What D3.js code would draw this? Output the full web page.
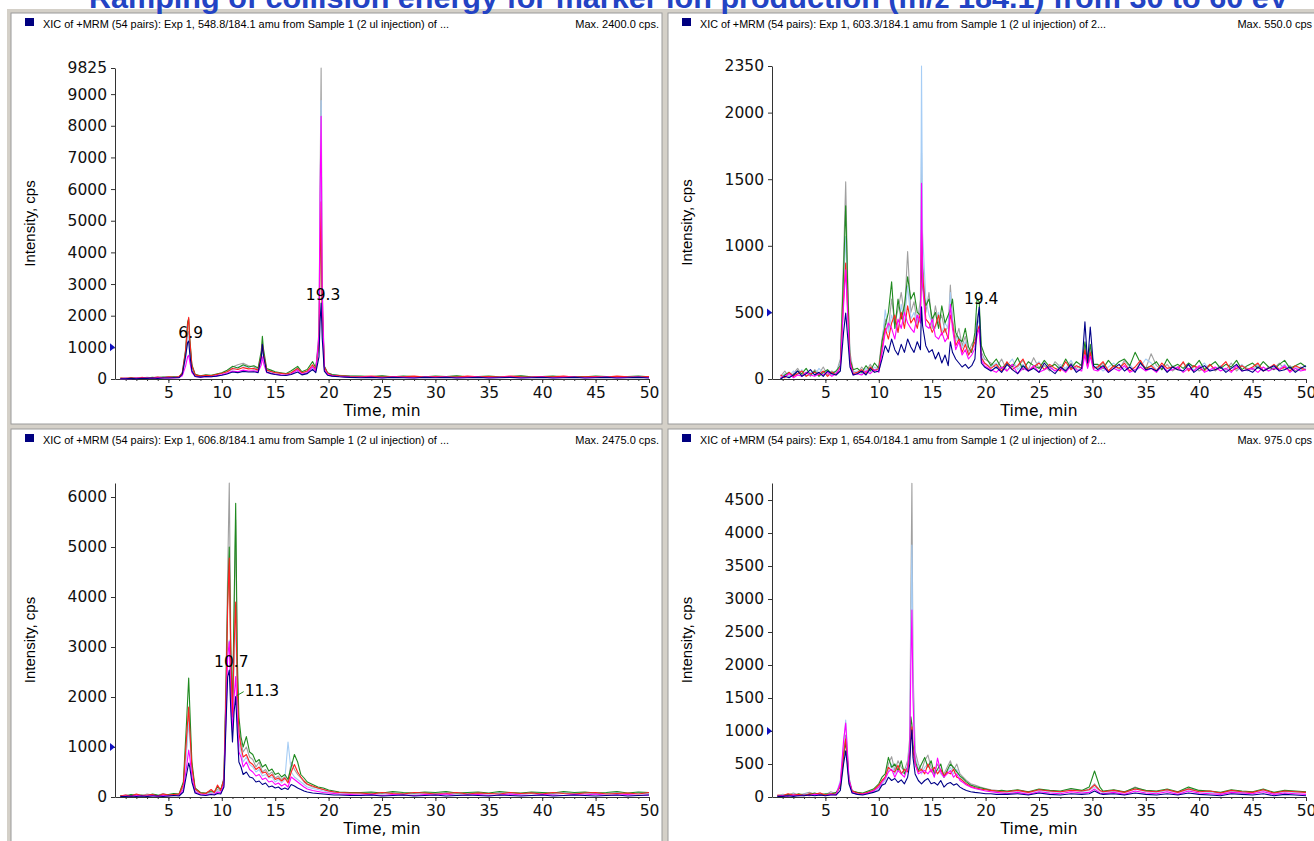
<!DOCTYPE html>
<html>
<head>
<meta charset="utf-8">
<script src="https://cdn.jsdelivr.net/npm/d3@7"></script>
<style>
  body { margin: 0; background: #fff; }
  svg { display: block; }
</style>
</head>
<body>
<svg id="chart" width="1314" height="841"></svg>
<script>
// ---- data ----
const title = 'Ramping of collision energy for marker ion production (m/z 184.1) from 30 to 60 eV';
const seriesColors = ['#a0a0a0', '#a6cdf5', '#1f8a1f', '#ff2020', '#ff00ff', '#000088'];
const xTicks = [5, 10, 15, 20, 25, 30, 35, 40, 45, 50];

// top left: 548.8/184.1
const timeTL = [0.5,1,1.5,2,2.5,3,3.5,4,4.5,5,5.5,6, 6.3,6.6,6.8,6.9,7.0,7.2,7.5, 8,8.5,9,9.5,10,10.5,11,11.5,12,12.5,13,
  13.4,13.7,13.8,13.9,14.2,14.6,15,15.5,16,16.5, 17.1,17.5,18,18.5,18.8,19.1,19.2,19.3,19.4,19.6,19.9, 20.3,21,21.5,22,
  23,24,25,26,27,28,29,30,31,32,33,34,35,36,37,38,39,40,41,42,43,44,45,46,47,48,49,50];
const grayTL = [20,30,25,40,30,50,40,60,50,70,60,80, 150,700,1400,1500,1100,400,120, 90,110,100,140,180,250,380,450,500,420,380,
  300,700,1100,800,300,250,200,180,160,200, 350,200,220,400,300,1500,6000,9825,3000,400,200, 150,120,100,90,
  80,70,90,60,80,70,60,80,70,90,60,70,80,60,70,90,60,70,80,60,70,60,80,70,60,70,80,60];
const blueTL = [10,20,15,30,20,40,30,45,40,55,50,60, 120,600,1300,1350,1000,350,100, 70,90,80,120,160,220,300,380,420,360,300,
  250,600,1000,700,260,220,180,160,150,180, 300,180,200,350,260,1300,5500,8800,2600,350,180, 130,100,90,80,
  60,70,50,80,60,50,70,60,80,50,60,70,50,60,80,50,60,70,50,60,70,50,60,70,50,60,70,50];
const greenTL = [20,10,30,20,40,30,50,40,60,50,70,60, 200,900,1800,1900,1300,450,150, 100,130,120,160,200,280,400,350,450,380,420,
  350,900,1350,950,330,280,230,200,170,260, 400,230,300,550,350,1200,4000,4500,2200,400,200, 140,110,100,90,
  90,80,100,70,90,80,70,90,80,100,70,80,90,70,80,100,70,80,90,70,80,70,90,80,70,80,90,70];
const redTL = [30,20,40,20,50,30,40,60,40,70,50,80, 180,850,1700,1950,1250,420,130, 90,120,100,140,180,230,330,300,360,320,330,
  280,750,1100,800,280,240,200,180,160,200, 330,200,250,450,300,1100,3800,5600,2400,380,180, 120,100,90,80,
  70,90,60,80,70,90,60,80,70,60,90,70,80,60,90,70,60,80,70,90,60,70,80,60,90,70,60,80];
const pinkTL = [10,20,10,30,20,30,20,40,30,40,30,50, 100,400,700,750,550,200,80, 60,80,70,100,130,180,250,230,280,250,260,
  220,450,700,500,200,180,150,130,120,160, 280,150,200,380,250,1400,5800,8300,2800,300,150, 100,80,70,60,
  50,60,40,60,50,40,60,50,60,40,50,60,40,50,60,40,50,60,40,50,60,40,50,60,40,50,60,40];
const navyTL = [10,10,20,10,20,20,30,20,30,30,40,40, 150,700,1150,1200,800,250,80, 60,80,70,90,120,160,220,200,240,220,230,
  200,700,1100,750,220,170,140,120,110,140, 220,130,170,300,200,700,1800,2400,1300,250,120, 90,70,60,50,
  40,50,30,50,40,30,50,40,50,30,40,50,30,40,50,30,40,50,30,40,50,30,40,50,30,40,50,30];
const yTicksTL = [0, 1000, 2000, 3000, 4000, 5000, 6000, 7000, 8000, 9000, 9825];
const labelsTL = [[6.9, 1200, '6.9'], [19.3, 2400, '19.3']];

// top right: 603.3/184.1
const timeTR = [0.8,1.2,1.6,2,2.4,2.8,3.2,3.6,4,4.4,4.8,5.2,5.6,6, 6.4,6.7,6.9,7.1,7.3,7.6, 8,8.4,8.8,9.2,9.6,10,
  10.3,10.6,10.9,11.2,11.5,11.8,12.1,12.4,12.7,13,13.3,13.6,13.9, 14.0,14.1,14.4,14.7,15,15.3,15.6,15.9,16.2,16.5,
  16.7,16.9,17.2,17.5,17.8,18.1,18.4,18.7,19.0,19.2,19.4,19.6,19.9,
  20.5,21,21.5,22,22.5,23,23.5,24,24.5,25,25.5,26,26.5,27,27.5,28,28.5,29, 29.3,29.55,29.8,30.1,
  30.5,31,31.5,32,32.5,33,33.5,34,34.5,35,35.5,36,36.5,37,37.5,38,38.5,39,39.5,40,
  40.5,41,41.5,42,42.5,43,43.5,44,44.5,45,45.5,46,46.5,47,47.5,48,48.5,49,49.5,50];
const grayTR = [20,60,10,40,80,30,50,20,70,40,90,30,60,40, 150,900,1480,700,200,60, 40,90,50,110,60,100,
  300,450,380,600,420,520,650,480,956,500,580,420,600, 1697,900,500,650,380,550,420,480,350,400,
  706,450,300,380,250,320,200,260,300,450,520,200,150,
  120,80,150,60,110,90,140,70,160,80,100,60,130,90,70,120,80,110, 250,100,230,90,
  80,120,60,100,70,140,90,60,130,80,190,100,70,110,60,90,120,70,100,60,
  80,110,60,90,70,120,60,100,80,70,110,60,90,80,120,70,100,60,90,70];
const blueTR = [10,40,20,60,30,70,20,50,30,80,40,60,30,50, 120,700,1070,600,180,50, 60,40,80,50,90,70,
  250,520,350,480,400,350,560,420,700,450,500,400,550, 2350,1100,600,480,420,380,500,350,420,380,
  650,400,280,320,230,280,180,220,250,400,450,180,120,
  90,120,60,100,150,70,110,60,90,130,70,100,60,110,80,140,60,90, 200,90,180,80,
  100,60,90,120,70,80,110,60,90,150,120,70,90,60,100,80,60,110,70,90,
  120,60,80,100,60,90,70,110,60,80,100,70,60,90,80,110,60,90,70,80];
const greenTR = [0,30,50,20,60,40,80,30,60,20,50,70,40,60, 100,800,1300,650,150,70, 80,50,100,60,120,80,
  280,400,500,730,380,600,450,550,768,600,650,500,480, 900,700,550,600,450,500,380,550,420,480,
  520,600,350,300,280,380,240,200,350,600,580,250,180,
  100,150,80,120,90,160,70,130,100,80,140,90,110,70,150,80,130,100, 280,120,260,110,
  110,80,140,90,130,150,100,200,120,80,100,130,70,150,90,110,80,120,90,140,
  70,100,130,80,110,90,140,70,100,120,80,130,90,70,110,140,80,100,120,90];
const redTR = [30,10,50,20,40,60,20,40,50,30,60,20,50,30, 90,600,870,500,140,40, 50,70,40,90,60,80,
  220,380,300,420,480,350,500,380,550,420,460,380,500, 1118,800,450,420,350,400,480,330,380,300,
  480,420,250,300,200,260,180,220,280,350,400,160,120,
  80,110,60,130,70,100,150,60,90,120,70,110,80,60,130,70,100,80, 220,90,200,80,
  90,130,60,100,80,120,60,90,140,70,100,60,120,80,90,70,130,60,100,80,
  60,110,70,90,130,60,80,100,70,90,120,60,80,110,70,90,60,100,80,70];
const pinkTR = [10,20,40,10,30,20,50,30,20,40,30,50,20,40, 80,550,820,450,120,30, 40,30,60,40,70,50,
  200,350,420,380,300,450,380,500,420,380,350,480,420, 1470,700,400,380,450,320,300,350,280,320,
  560,380,220,280,180,220,150,180,230,320,380,140,100,
  70,50,90,60,110,40,80,60,100,50,70,90,60,80,50,100,70,60, 180,80,170,70,
  60,90,50,80,60,100,50,70,90,60,80,50,100,60,70,90,50,80,60,100,
  50,70,90,60,80,50,100,60,70,80,50,90,60,80,70,100,50,80,60,70];
const navyTR = [0,20,10,30,60,20,40,70,30,50,20,60,40,30, 60,350,495,300,90,30, 40,60,30,80,50,60,
  150,250,200,300,220,180,260,200,300,240,200,280,220, 543,400,250,200,220,150,200,120,180,100,
  280,200,150,120,90,110,80,100,150,400,540,120,90,
  60,90,50,110,70,40,100,60,80,50,120,70,40,90,60,110,50,80, 430,120,390,100,
  70,100,50,80,110,60,90,50,120,70,80,60,100,50,90,70,60,110,50,80,
  100,60,70,90,50,80,110,60,70,50,90,60,80,100,60,70,90,50,80,100];
const yTicksTR = [0, 500, 1000, 1500, 2000, 2350];
const labelsTR = [[19.4, 540, '19.4']];

// bottom left: 606.8/184.1
const timeBL = [0.5,1,1.5,2,2.5,3,3.5,4,4.5,5,5.5,6, 6.4,6.7,6.9,7.0,7.2,7.5,8, 8.5,9,9.3,9.6,9.9,10.2,
  10.4,10.55,10.7,10.85,11.0,11.15,11.3,11.45,11.6, 11.8,12.0,12.3,12.6,12.9,13.2,13.5,13.8,14.1,14.4,14.7,15,15.3,15.6,
  15.9,16.2,16.5,16.8,17.1,17.4,17.7,18,18.5,19, 19.5,20,20.5,21,22,
  23,24,25,26,27,28,29,30,31,32,33,34,35,36,37,38,39,40,41,42,43,44,45,46,47,48,49,50];
const grayBL = [20,40,30,50,20,60,40,30,70,40,60,50, 200,1000,1700,1400,600,150,80, 60,100,80,150,120,400,
  2500,4500,6280,3000,1800,3500,5540,2500,1400, 1100,900,1000,800,750,600,700,500,550,450,500,380,420,350,
  400,300,700,550,450,380,300,250,200,180, 150,120,100,90,80,
  70,80,60,90,70,60,80,70,90,60,70,80,60,90,70,60,80,70,60,90,70,80,60,70,90,60,80,70];
const blueBL = [10,30,20,40,10,50,30,20,50,30,40,40, 150,900,1500,1200,500,120,60, 50,80,70,120,100,300,
  1800,3000,3140,2200,1500,2600,3600,2000,1100, 900,700,800,650,600,500,550,420,450,380,400,300,350,280,
  350,1100,500,400,350,300,250,200,170,150, 120,100,90,80,70,
  60,50,70,60,50,70,60,80,50,60,70,50,60,80,60,50,70,60,50,80,60,70,50,60,80,50,70,60];
const greenBL = [30,20,50,30,40,20,60,40,30,50,70,60, 300,1500,2380,1800,700,180,90, 80,120,100,200,150,350,
  2200,4000,5000,2800,1700,3800,5873,2800,1600, 1200,1000,1207,900,850,700,750,600,650,520,560,450,480,400,
  450,350,600,850,700,450,380,300,250,200, 180,140,120,100,90,
  90,100,80,110,90,80,100,90,110,80,90,100,80,110,90,80,100,90,80,110,90,100,80,90,110,80,100,90];
const redBL = [20,40,20,60,30,40,50,20,60,40,50,60, 250,1200,1800,1340,600,160,80, 70,150,90,240,130,350,
  2100,3800,4780,2600,1600,3000,3900,2200,1300, 1000,800,850,700,650,550,600,480,500,400,450,350,380,320,
  380,280,500,650,500,400,320,260,220,180, 150,120,100,90,80,
  80,60,90,70,60,90,80,60,70,90,60,80,70,60,90,70,80,60,90,70,60,80,90,60,70,80,60,90];
const pinkBL = [10,20,10,30,20,20,30,10,30,20,30,30, 150,600,940,800,400,100,50, 40,60,50,100,80,250,
  1700,2800,3107,2000,1300,2000,2407,1600,900, 800,600,700,550,500,420,450,350,380,300,320,250,280,220,
  260,200,400,350,300,250,200,160,130,110, 90,80,70,60,50,
  40,50,30,50,40,30,50,40,60,30,40,50,30,40,60,40,30,50,40,30,50,40,60,30,40,50,30,40];
const navyBL = [10,10,20,10,20,10,20,20,10,20,30,20, 100,450,680,600,300,80,40, 30,50,40,70,60,200,
  1500,2400,2540,1700,1100,1700,2007,1300,700, 600,450,500,400,380,300,320,250,280,200,220,180,200,150,
  180,150,250,220,180,150,120,100,80,70, 60,50,40,40,30,
  30,40,20,30,40,20,30,40,20,30,40,30,20,40,30,20,30,40,20,30,40,30,20,30,40,20,30,40];
const yTicksBL = [0, 1000, 2000, 3000, 4000, 5000, 6000];
const labelsBL = [[10.7, 2540, '10.7'], [11.3, 2007, '11.3']];

// bottom right: 654.0/184.1
const timeBR = [0.5,1,1.5,2,2.5,3,3.5,4,4.5,5,5.5,6, 6.4,6.7,6.9,7.0,7.2,7.5,8, 8.5,9,9.5,10,10.3,10.6,
  10.9,11.2,11.5,11.8,12.1,12.4,12.7,12.9,13.0,13.1,13.2,13.4,13.7,
  14.0,14.3,14.6,14.9,15.2,15.5,15.8,16.1,16.4,16.7,17.0,17.3,17.6,17.9,18.2,18.6,
  19,19.5,20,20.5,21,21.5, 22,23,24,25,26,27,28,29, 29.7,30.2,30.7,
  31,32,33,34,35,36,37,38,39,40,41,42,43,44,45,46,47,48,49,50];
const grayBR = [20,40,30,60,30,50,70,40,60,30,80,50, 200,700,940,800,300,100,60, 50,80,100,150,250,300,
  500,611,400,550,450,400,550,900,3000,4753,2000,700,500,
  400,550,636,450,380,500,400,350,450,550,400,500,350,300,250,200,
  180,150,130,110,100,90, 80,100,70,110,90,80,120,90, 120,200,100,
  80,100,70,150,90,80,110,70,130,90,80,60,100,80,70,110,60,90,80,70];
const blueBR = [10,30,20,40,20,40,50,30,40,20,60,40, 250,800,1167,900,300,80,50, 40,60,80,120,200,250,
  400,500,350,450,380,350,480,800,2500,3818,1800,600,450,
  350,450,500,400,320,420,350,300,380,450,350,420,300,250,200,180,
  150,130,110,100,90,80, 70,90,60,100,80,70,110,80, 100,150,90,
  70,90,60,120,80,70,100,60,110,80,70,50,90,70,60,100,50,80,70,60];
const greenBR = [20,10,40,20,50,30,40,60,30,50,40,70, 150,600,818,700,250,90,70, 60,90,120,200,300,350,
  600,450,500,400,550,350,450,700,1217,1100,800,550,400,
  500,600,450,550,350,420,500,300,400,500,450,380,320,280,230,180,
  160,140,120,100,90,100, 90,110,80,120,100,90,130,100, 150,394,150,
  90,110,80,140,100,90,120,80,150,100,90,70,110,90,80,120,70,100,90,80];
const redBR = [30,20,50,30,40,20,50,40,60,30,50,40, 180,650,880,720,260,90,60, 50,70,100,180,250,300,
  450,400,380,480,350,420,380,650,900,1065,700,500,380,
  420,350,500,380,450,350,420,320,380,350,420,300,280,240,200,160,
  140,120,110,100,90,80, 80,100,70,110,90,80,100,90, 110,180,100,
  80,100,70,120,90,80,110,70,120,80,90,60,100,80,70,110,60,90,80,70];
const pinkBR = [10,20,10,30,20,30,20,40,30,20,40,30, 220,850,1120,850,280,70,40, 40,60,90,150,220,280,
  380,420,300,400,350,300,450,750,2000,2833,1500,500,350,
  380,400,350,420,300,590,380,300,350,400,300,350,250,220,180,150,
  130,110,90,80,70,60, 50,70,40,80,60,50,80,60, 70,120,60,
  50,70,40,90,60,50,80,40,90,60,50,40,70,60,50,80,40,60,50,40];
const navyBR = [10,10,20,10,20,20,30,20,30,20,30,30, 100,500,700,550,200,60,40, 30,50,70,100,180,200,
  300,250,280,220,260,200,300,500,850,1015,600,350,250,
  200,250,280,200,220,180,250,150,200,220,180,200,150,120,100,80,
  70,60,50,50,40,40, 40,50,30,60,40,30,50,40, 50,90,50,
  40,50,30,60,40,30,50,30,60,40,30,20,50,40,30,50,20,40,30,20];
const yTicksBR = [0, 500, 1000, 1500, 2000, 2500, 3000, 3500, 4000, 4500];
const labelsBR = [];

// ---- layout ----
const panels = [
  { x0: 11, y0: 13, w: 651, h: 411, ox: 115, oy: 379, top: 68, yMax: 9825, marker: 1000,
    header: 'XIC of +MRM (54 pairs): Exp 1, 548.8/184.1 amu from Sample 1 (2 ul injection) of ...', maxText: 'Max. 2400.0 cps.',
    times: timeTL, series: [grayTL, blueTL, greenTL, redTL, pinkTL, navyTL], yTicks: yTicksTL, labels: labelsTL },
  { x0: 668, y0: 13, w: 660, h: 411, ox: 772, oy: 379, top: 66, yMax: 2350, marker: 500,
    header: 'XIC of +MRM (54 pairs): Exp 1, 603.3/184.1 amu from Sample 1 (2 ul injection) of 2...', maxText: 'Max. 550.0 cps',
    times: timeTR, series: [grayTR, blueTR, greenTR, redTR, pinkTR, navyTR], yTicks: yTicksTR, labels: labelsTR },
  { x0: 11, y0: 429, w: 651, h: 420, ox: 115, oy: 797, top: 483, yMax: 6280, marker: 1000,
    header: 'XIC of +MRM (54 pairs): Exp 1, 606.8/184.1 amu from Sample 1 (2 ul injection) of ...', maxText: 'Max. 2475.0 cps.',
    times: timeBL, series: [grayBL, blueBL, greenBL, redBL, pinkBL, navyBL], yTicks: yTicksBL, labels: labelsBL },
  { x0: 668, y0: 429, w: 660, h: 420, ox: 772, oy: 797, top: 483, yMax: 4758, marker: 1000,
    header: 'XIC of +MRM (54 pairs): Exp 1, 654.0/184.1 amu from Sample 1 (2 ul injection) of 2...', maxText: 'Max. 975.0 cps',
    times: timeBR, series: [grayBR, blueBR, greenBR, redBR, pinkBR, navyBR], yTicks: yTicksBR, labels: labelsBR }
];

const svg = d3.select('#chart');
const tickFont = '"DejaVu Sans", sans-serif';

// frames first so the neighbouring gray bands join up
panels.forEach(p => {
  svg.append('rect')
    .attr('x', p.x0 - 4).attr('y', p.y0 - 4)
    .attr('width', p.w + 8).attr('height', p.h + 8)
    .attr('fill', '#d4d0c8');
});

panels.forEach(p => {
  const g = svg.append('g');
  g.append('rect')
    .attr('x', p.x0).attr('y', p.y0)
    .attr('width', p.w).attr('height', p.h)
    .attr('fill', '#fff')
    .attr('stroke', '#9a9a9a');

  // header line
  g.append('rect').attr('x', p.x0 + 14).attr('y', p.y0 + 5).attr('width', 9).attr('height', 8).attr('fill', '#000080');
  g.append('text')
    .attr('x', p.x0 + 32).attr('y', p.y0 + 15)
    .attr('textLength', 406).attr('lengthAdjust', 'spacingAndGlyphs')
    .style('font', '11px "Liberation Sans", Arial, sans-serif')
    .text(p.header);
  g.append('text')
    .attr('x', p.x0 + (p.w > 655 ? 644 : p.w - 3)).attr('y', p.y0 + 15)
    .attr('text-anchor', 'end')
    .style('font', '11px "Liberation Sans", Arial, sans-serif')
    .text(p.maxText);

  const xScale = d3.scaleLinear().domain([0, 50]).range([p.ox, p.ox + 534]);
  const yScale = d3.scaleLinear().domain([0, p.yMax]).range([p.oy, p.top]);

  // minor x ticks every minute
  g.append('g')
    .attr('transform', `translate(0,${p.oy})`)
    .call(d3.axisBottom(xScale).tickValues(d3.range(1, 51)).tickSize(2).tickFormat(''))
    .call(s => s.select('.domain').remove())
    .selectAll('line').attr('stroke', '#333');

  const xAxis = g.append('g')
    .attr('transform', `translate(0,${p.oy})`)
    .call(d3.axisBottom(xScale).tickValues(xTicks).tickSize(4).tickSizeOuter(0).tickPadding(4)
      .tickFormat(d3.format('d')));
  xAxis.selectAll('text').style('font-family', tickFont).style('font-size', '15.5px').attr('fill', '#111');
  xAxis.selectAll('line, path').attr('stroke', '#333');

  const yAxis = g.append('g')
    .attr('transform', `translate(${p.ox},0)`)
    .call(d3.axisLeft(yScale).tickValues(p.yTicks).tickSize(4).tickSizeOuter(0).tickPadding(4)
      .tickFormat(d3.format('d')));
  yAxis.selectAll('text').style('font-family', tickFont).style('font-size', '15.5px').attr('fill', '#111');
  yAxis.selectAll('line, path').attr('stroke', '#333');

  // axis titles
  g.append('text')
    .attr('x', xScale(25)).attr('y', p.oy + 37)
    .attr('text-anchor', 'middle')
    .style('font-family', tickFont).style('font-size', '15.5px')
    .text('Time, min');
  g.append('text')
    .attr('transform', `translate(${p.x0 + 24},${(p.oy + p.top) / 2}) rotate(-90)`)
    .attr('text-anchor', 'middle')
    .style('font', '15px "Liberation Sans", Arial, sans-serif')
    .text('Intensity, cps');

  // traces
  const line = d3.line().x(d => xScale(d[0])).y(d => yScale(d[1]));
  p.series.forEach((vals, k) => {
    g.append('path')
      .datum(p.times.map((t, i) => [t, vals[i]]).filter(d => d[1] !== undefined))
      .attr('d', line)
      .attr('fill', 'none')
      .attr('stroke', seriesColors[k])
      .attr('stroke-width', 1.1)
      .attr('stroke-linejoin', 'round');
  });

  // selected-level marker on the y axis
  const my = yScale(p.marker);
  g.append('path')
    .attr('d', `M${p.ox - 5},${my - 4} L${p.ox},${my} L${p.ox - 5},${my + 4} Z`)
    .attr('fill', '#1010c0');

  // peak labels
  p.labels.forEach(([t, v, txt]) => {
    const px = xScale(t), py = yScale(v);
    if (txt === '11.3') {
      g.append('line').attr('x1', px + 1).attr('y1', py - 1).attr('x2', px + 8).attr('y2', py - 5)
        .attr('stroke', '#1f8a1f');
      g.append('text').attr('x', px + 9).attr('y', py - 1)
        .style('font-family', tickFont).style('font-size', '15.5px').text(txt);
    } else {
      g.append('text').attr('x', px + 2).attr('y', py - 3).attr('text-anchor', 'middle')
        .style('font-family', tickFont).style('font-size', '15.5px').text(txt);
    }
  });
});

// page title, mostly cut off at the top edge
svg.append('text')
  .attr('x', 689).attr('y', 8)
  .attr('text-anchor', 'middle')
  .attr('textLength', 1200).attr('lengthAdjust', 'spacingAndGlyphs')
  .style('font', 'bold 30px "Liberation Sans", Arial, sans-serif')
  .attr('fill', '#2343c4')
  .text(title);
</script>
</body>
</html>
